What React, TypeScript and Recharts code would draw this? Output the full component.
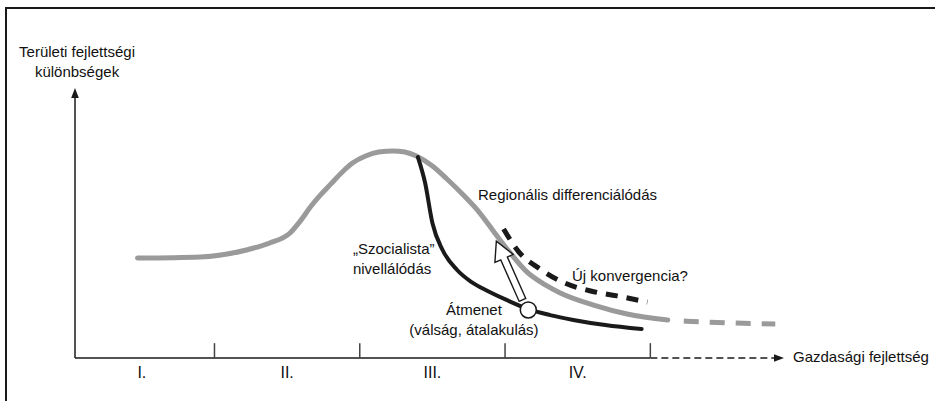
import { ComposedChart, Line, XAxis, YAxis, ReferenceLine, ReferenceDot } from "recharts";

// x: gazdasági fejlettség (stage units), y: területi különbségek
const stageBounds = [1, 2, 3, 4];
const stageMids = [0.5, 1.5, 2.5, 3.5];
const stageLabels = ["I.", "II.", "III.", "IV."];

const mainDev = [0.47, 0.9, 1.22, 1.38, 1.52, 1.59, 1.66, 1.73, 1.8, 1.88, 1.95, 2.04, 2.13, 2.23, 2.31, 2.39, 2.5, 2.6, 2.72, 2.81, 2.95, 3.03, 3.15, 3.28, 3.38, 3.61, 3.84, 4.12];
const mainGap = [3.7, 3.74, 4.0, 4.26, 4.63, 5.07, 5.59, 6.04, 6.44, 6.89, 7.22, 7.48, 7.63, 7.67, 7.63, 7.48, 7.11, 6.63, 6.0, 5.48, 4.48, 3.93, 3.19, 2.7, 2.41, 1.96, 1.63, 1.41];

const futureDev = [4.23, 4.55, 4.86];
const futureGap = [1.37, 1.3, 1.26];

const socialistDev = [2.4, 2.45, 2.5, 2.57, 2.67, 2.77, 2.88, 3.01, 3.16, 3.31, 3.47, 3.69, 3.94];
const socialistGap = [7.44, 6.48, 5.0, 4.0, 3.26, 2.81, 2.48, 2.15, 1.81, 1.59, 1.41, 1.22, 1.07];

const convergenceDev = [2.99, 3.09, 3.24, 3.41, 3.59, 3.77, 3.98];
const convergenceGap = [4.78, 3.96, 3.3, 2.78, 2.48, 2.3, 2.07];

const transitionPoint = { x: 3.16, y: 1.78 };
const shiftArrow = [{ x: 3.12, y: 2.15 }, { x: 2.94, y: 4.33 }];

const X_DOMAIN = [0.04, 4.92];
const FONT = "'Liberation Sans', Arial, sans-serif";
const INK = "#1a1a1a";

const zip = (xs: number[], ys: number[]) => xs.map((x, i) => ({ x, y: ys[i] }));

function Note({ cx, cy, lines, anchor = "start" }: any) {
    return (
        <text x={cx} y={cy} fontFamily={FONT} fontSize={15} fill="#111" textAnchor={anchor}>
            {lines.map((l: string, i: number) => (
                <tspan key={i} x={cx} dy={i === 0 ? 0 : 20}>{l}</tspan>
            ))}
        </text>
    );
}

const arrowLine = (dash?: string) => (p: any) => {
    const { x1, y1, x2, y2 } = p;
    const L = Math.hypot(x2 - x1, y2 - y1) || 1;
    const ux = (x2 - x1) / L, uy = (y2 - y1) / L;
    const bx = x2 - ux * 10, by = y2 - uy * 10;
    return (
        <g>
            <line x1={x1} y1={y1} x2={bx} y2={by} stroke={INK} strokeWidth={1.5} strokeDasharray={dash} />
            <polygon points={`${x2},${y2} ${bx - uy * 3.8},${by + ux * 3.8} ${bx + uy * 3.8},${by - ux * 3.8}`} fill={INK} />
        </g>
    );
};

const hollowArrow = (p: any) => {
    const { x1, y1, x2, y2 } = p;
    const L = Math.hypot(x2 - x1, y2 - y1) || 1;
    const ux = (x2 - x1) / L, uy = (y2 - y1) / L;
    const nx = -uy, ny = ux;
    const hx = x2 - ux * 19, hy = y2 - uy * 19;
    const pts = [
        [x1 + nx * 3.6, y1 + ny * 3.6],
        [hx + nx * 3.6, hy + ny * 3.6],
        [hx + nx * 10, hy + ny * 10],
        [x2, y2],
        [hx - nx * 10, hy - ny * 10],
        [hx - nx * 3.6, hy - ny * 3.6],
        [x1 - nx * 3.6, y1 - ny * 3.6],
    ];
    return <polygon points={pts.map((q) => q.join(",")).join(" ")} fill="#fff" stroke={INK} strokeWidth={1.4} strokeLinejoin="miter" />;
};

export default function App() {
    return (
        <div style={{ position: "absolute", left: 0, top: 0, width: 935, height: 401, background: "#fff" }}>
            <div style={{ position: "absolute", left: 5, top: 7, right: 0, bottom: 0, borderTop: `2px solid ${INK}`, borderLeft: `2px solid ${INK}` }} />
            <div style={{ position: "absolute", left: 0, top: 0 }}>
                <ComposedChart width={935} height={401} margin={{ top: 88, right: 151, bottom: 13, left: 75 }}>
                    <XAxis
                        type="number"
                        dataKey="x"
                        domain={X_DOMAIN}
                        allowDataOverflow
                        ticks={stageMids}
                        interval={0}
                        tickFormatter={(v: number) => stageLabels[stageMids.indexOf(v)]}
                        axisLine={false}
                        tickLine={false}
                        tickMargin={3}
                        height={30}
                        tick={{ fill: "#111", fontSize: 16, fontFamily: FONT }}
                    />
                    <YAxis type="number" dataKey="y" domain={[0, 10]} allowDataOverflow hide />

                    {/* axes */}
                    <ReferenceLine ifOverflow="visible" segment={[{ x: X_DOMAIN[0], y: 0 }, { x: X_DOMAIN[0], y: 10 }]} shape={arrowLine()} />
                    <ReferenceLine ifOverflow="visible" segment={[{ x: X_DOMAIN[0], y: 0 }, { x: 4, y: 0 }]} stroke={INK} strokeWidth={1.5} />
                    <ReferenceLine ifOverflow="visible" segment={[{ x: 4, y: 0 }, { x: X_DOMAIN[1], y: 0 }]} shape={arrowLine("7 4")} />
                    {stageBounds.map((b) => (
                        <ReferenceLine key={b} ifOverflow="visible" segment={[{ x: b, y: 0 }, { x: b, y: 0.55 }]} stroke="#444" strokeWidth={1.5} />
                    ))}

                    <Line data={zip(mainDev, mainGap)} dataKey="y" type="monotone" stroke="#9a9a9a" strokeWidth={5} strokeLinecap="round" dot={false} activeDot={false} isAnimationActive={false} />
                    <Line data={zip(futureDev, futureGap)} dataKey="y" type="monotone" stroke="#9a9a9a" strokeWidth={5} strokeDasharray="15 11" dot={false} activeDot={false} isAnimationActive={false} />
                    <Line data={zip(convergenceDev, convergenceGap)} dataKey="y" type="monotone" stroke={INK} strokeWidth={5} strokeDasharray="12 9" dot={false} activeDot={false} isAnimationActive={false} />
                    <Line data={zip(socialistDev, socialistGap)} dataKey="y" type="monotone" stroke={INK} strokeWidth={4} strokeLinecap="round" dot={false} activeDot={false} isAnimationActive={false} />

                    <ReferenceLine ifOverflow="visible" segment={shiftArrow} shape={hollowArrow} />
                    <ReferenceDot ifOverflow="visible" x={transitionPoint.x} y={transitionPoint.y} r={8} fill="#fff" stroke={INK} strokeWidth={1.5} />

                    {/* annotations */}
                    <ReferenceDot ifOverflow="visible" x={0.054} y={11.15} r={0} shape={(p: any) => <Note {...p} anchor="middle" lines={["Területi fejlettségi", "különbségek"]} />} />
                    <ReferenceDot ifOverflow="visible" x={4.982} y={-0.15} r={0} shape={(p: any) => <Note {...p} lines={["Gazdasági fejlettség"]} />} />
                    <ReferenceDot ifOverflow="visible" x={2.814} y={5.85} r={0} shape={(p: any) => <Note {...p} lines={["Regionális differenciálódás"]} />} />
                    <ReferenceDot ifOverflow="visible" x={1.953} y={3.85} r={0} shape={(p: any) => <Note {...p} lines={["„Szocialista”", "nivellálódás"]} />} />
                    <ReferenceDot ifOverflow="visible" x={3.461} y={2.85} r={0} shape={(p: any) => <Note {...p} lines={["Új konvergencia?"]} />} />
                    <ReferenceDot ifOverflow="visible" x={2.786} y={1.59} r={0} shape={(p: any) => <Note {...p} anchor="middle" lines={["Átmenet", "(válság, átalakulás)"]} />} />
                </ComposedChart>
            </div>
        </div>
    );
}
